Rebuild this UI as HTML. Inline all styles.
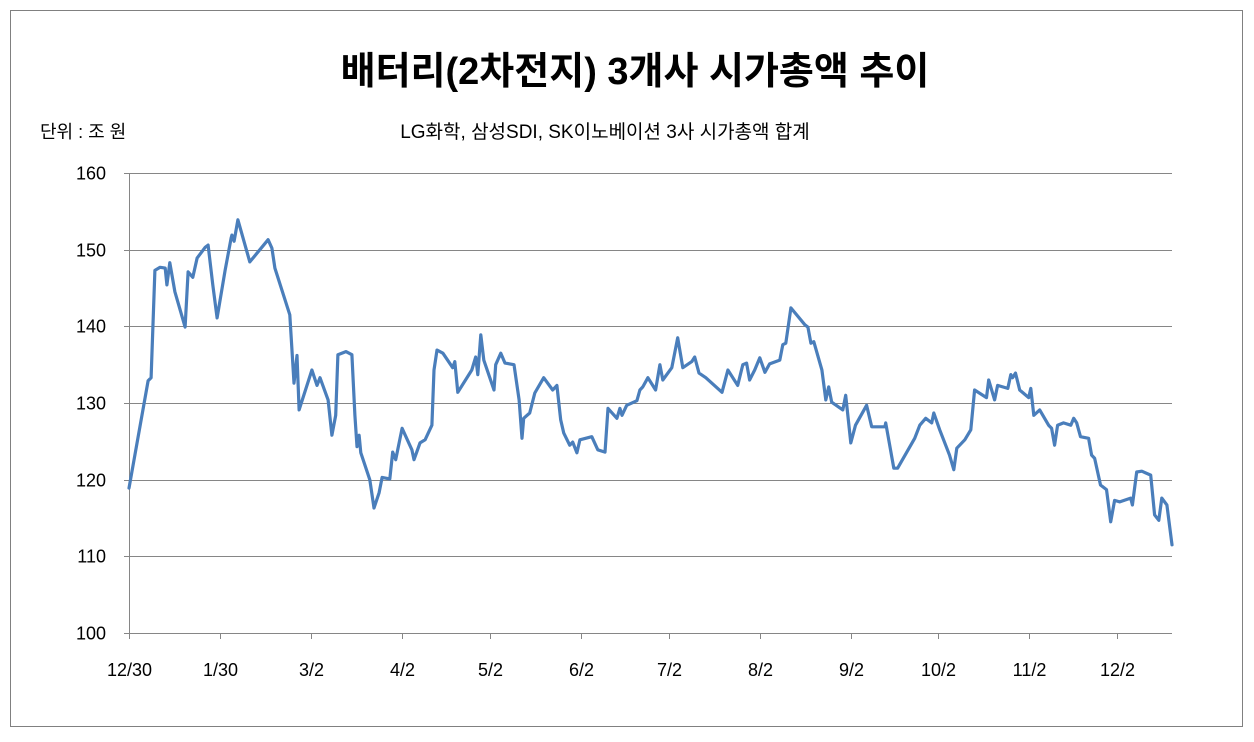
<!DOCTYPE html>
<html><head><meta charset="utf-8"><style>
body{margin:0;background:#fff;}
svg text{font-family:"Liberation Sans","Noto Sans CJK KR",sans-serif;}
</style></head><body>
<svg id="chart" width="1254" height="737" xmlns="http://www.w3.org/2000/svg">
<rect x="10.5" y="10.5" width="1232" height="716" fill="#fff" stroke="#808080" stroke-width="1"/>
<text x="635" y="84" text-anchor="middle" font-size="38" font-weight="bold" fill="#000">배터리(2차전지) 3개사 시가총액 추이</text>
<text x="40" y="138" font-size="18" fill="#000">단위 : 조 원</text>
<text x="605" y="138" text-anchor="middle" font-size="19" fill="#000">LG화학, 삼성SDI, SK이노베이션 3사 시가총액 합계</text>
<g id="grid"></g><g id="axes"></g><g id="series"></g>
</svg>
<script>
const yTicks=[100,110,120,130,140,150,160];
const xTickLabels=["12/30","1/30","3/2","4/2","5/2","6/2","7/2","8/2","9/2","10/2","11/2","12/2"];
const xTickDays=[0,21.4,42.8,64.2,84.8,106.2,126.9,148.3,169.7,190.2,211.5,232.2];
const days=[0,4.5,5.2,6.1,7.3,8.5,8.9,9.6,10.8,13.2,13.9,15.0,16.0,17.9,18.6,19.7,20.7,22.6,24.0,24.2,24.7,25.6,28.4,32.7,33.6,34.3,37.8,38.8,39.5,40.0,43.0,44.2,44.9,46.8,47.7,48.6,49.1,51.0,52.4,53.1,53.6,54.1,54.5,56.6,57.6,58.8,59.5,61.3,62.0,62.7,64.2,66.5,67.0,68.4,69.6,71.2,71.7,72.4,73.8,76.1,76.6,77.3,80.6,81.5,82.0,82.7,83.4,85.8,86.2,87.4,88.4,90.5,91.7,92.4,92.8,94.2,95.4,97.5,99.6,100.6,101.5,102.2,103.6,104.3,105.3,106.0,108.8,110.2,111.9,112.6,114.7,115.4,115.9,117.0,119.4,120.1,120.8,122.0,123.8,124.8,125.5,127.6,129.0,130.2,132.3,133.0,134.0,135.6,139.4,140.8,143.1,144.3,145.2,145.9,147.1,148.3,149.5,150.6,153.0,153.7,154.4,155.6,158.9,159.6,160.3,161.0,162.9,163.8,164.5,165.2,167.8,168.5,169.7,170.8,173.4,174.6,177.7,177.9,179.8,180.7,184.7,185.9,187.3,188.7,189.2,190.6,192.9,193.9,194.6,196.5,197.9,198.8,201.6,202.1,203.5,204.2,206.6,207.3,207.7,208.4,209.4,211.5,212.0,212.7,214.1,216.2,216.9,217.6,218.3,219.7,221.4,222.1,222.8,223.7,225.6,226.3,227.0,228.4,229.8,230.8,231.7,232.9,235.5,235.9,236.9,238.1,240.2,241.1,242.1,242.8,244.0,245.2];
const values=[118.9,132.9,133.3,147.3,147.7,147.6,145.4,148.3,144.5,139.9,147.1,146.4,148.9,150.3,150.6,145.4,141.1,147.3,151.5,151.9,151.1,153.9,148.4,151.3,150.2,147.6,141.5,132.6,136.2,129.1,134.3,132.3,133.3,130.4,125.8,128.4,136.3,136.7,136.3,128.4,124.3,125.8,123.5,120,116.3,118.3,120.3,120.1,123.6,122.6,126.7,123.9,122.6,124.8,125.2,127.1,134.3,136.9,136.5,134.6,135.4,131.4,134.3,136,133.7,138.9,135.6,131.7,135,136.5,135.2,135,130.4,125.4,128,128.7,131.3,133.3,131.7,132.3,127.8,126.1,124.5,124.9,123.5,125.2,125.6,123.9,123.6,129.3,128,129.3,128.4,129.7,130.3,131.7,132.1,133.3,131.7,135,133,134.6,138.5,134.6,135.4,136,133.9,133.3,131.4,134.3,132.3,135,135.2,133,134.3,135.9,134,135.1,135.6,137.6,137.8,142.4,140.2,139.9,137.8,138,134.3,130.4,132.1,130.1,129.1,131,124.8,127.1,129.7,126.9,126.9,127.4,121.5,121.5,125.4,127.1,128,127.4,128.7,126.5,123.2,121.3,124.1,125.2,126.5,131.7,130.7,133,130.4,132.3,131.9,133.7,133.3,133.9,131.7,130.7,131.9,128.4,129.1,127.1,126.7,124.5,127.1,127.4,127.1,128,127.4,125.6,125.4,123.2,122.8,119.3,118.7,114.5,117.3,117.1,117.6,116.7,121,121.1,120.6,115.4,114.7,117.6,116.7,111.5];

const NS="http://www.w3.org/2000/svg";
const L=129,R=1172,T=173,B=633;
const xS=d=>L+(d-0)/(245.2-0)*(R-L);
const yS=v=>B-(v-100)/(160-100)*(B-T);
const grid=document.getElementById('grid'),axes=document.getElementById('axes'),ser=document.getElementById('series');
function mk(tag,at,parent){const e=document.createElementNS(NS,tag);for(const k in at)e.setAttribute(k,at[k]);parent.appendChild(e);return e;}
yTicks.forEach(v=>{
  const y=Math.round(yS(v))+0.5;
  if(v>100){const g=mk('line',{x1:L,x2:R,y1:y,y2:y,stroke:'#868686','stroke-width':1},grid);
  
  }
  const tk=mk('line',{x1:L-5,x2:L,y1:y,y2:y,stroke:'#868686'},axes);
  
  
  const t=mk('text',{x:L-23,y:y+6,'text-anchor':'end','font-size':18,fill:'#000'},axes);t.textContent=v;
  
  
});
const ya=mk('line',{x1:L+0.5,x2:L+0.5,y1:T,y2:B,stroke:'#868686'},axes);


const xa=mk('line',{x1:L,x2:R,y1:B+0.5,y2:B+0.5,stroke:'#868686'},axes);


xTickDays.forEach((d,i)=>{
  const x=Math.round(xS(d))+0.5;
  const tk=mk('line',{x1:x,x2:x,y1:B,y2:B+6,stroke:'#868686'},axes);
  
  
  const t=mk('text',{x:x,y:B+43,'text-anchor':'middle','font-size':18,fill:'#000'},axes);t.textContent=xTickLabels[i];
  
  
});
let dstr=days.map((d,i)=>(i?'L':'M')+xS(d).toFixed(1)+','+yS(values[i]).toFixed(1)).join(' ');
const p=mk('path',{d:dstr,fill:'none',stroke:'#4a7ebb','stroke-width':3.2,'stroke-linejoin':'round','stroke-linecap':'round'},ser);


</script>
</body></html>
